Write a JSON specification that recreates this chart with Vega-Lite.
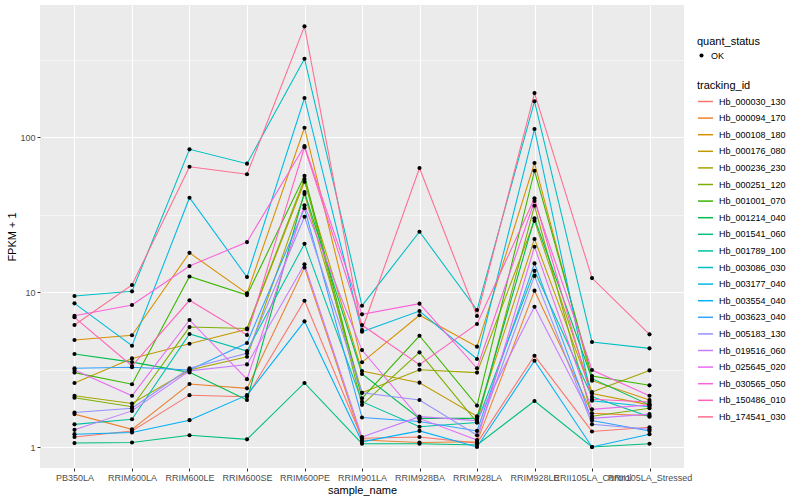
{
  "$schema": "https://vega.github.io/schema/vega-lite/v6.json",
  "width": 644,
  "height": 463,
  "autosize": {"type": "none"},
  "padding": {"left": 40, "top": 5, "right": 116, "bottom": 32},
  "background": "white",
  "config": {
    "view": {"fill": "#EBEBEB", "stroke": null},
    "font": "Liberation Sans",
    "axis": {"domain": false, "tickColor": "#333333", "tickSize": 3, "labelColor": "#4D4D4D", "labelFontSize": 9, "titleFontSize": 11, "titleFontWeight": "normal", "titleColor": "black", "gridColor": "white", "gridWidth": 1.07, "labelFont": "Liberation Sans", "titleFont": "Liberation Sans"},
    "legend": {"titleFontSize": 11, "titleFontWeight": "normal", "labelFontSize": 9, "titleColor": "black", "labelColor": "black", "titleFont": "Liberation Sans", "labelFont": "Liberation Sans", "padding": 0}
  },
  "datasets": {
    "expr": [
      {"tracking_id":"Hb_000030_130","sample_name":"PB350LA","quant_status":"OK","fpkm":1.16},
      {"tracking_id":"Hb_000030_130","sample_name":"RRIM600LA","quant_status":"OK","fpkm":1.27},
      {"tracking_id":"Hb_000030_130","sample_name":"RRIM600LE","quant_status":"OK","fpkm":2.16},
      {"tracking_id":"Hb_000030_130","sample_name":"RRIM600SE","quant_status":"OK","fpkm":2.11},
      {"tracking_id":"Hb_000030_130","sample_name":"RRIM600PE","quant_status":"OK","fpkm":8.79},
      {"tracking_id":"Hb_000030_130","sample_name":"RRIM901LA","quant_status":"OK","fpkm":1.14},
      {"tracking_id":"Hb_000030_130","sample_name":"RRIM928BA","quant_status":"OK","fpkm":1.16},
      {"tracking_id":"Hb_000030_130","sample_name":"RRIM928LA","quant_status":"OK","fpkm":1.06},
      {"tracking_id":"Hb_000030_130","sample_name":"RRIM928LE","quant_status":"OK","fpkm":3.88},
      {"tracking_id":"Hb_000030_130","sample_name":"RRII105LA_Control","quant_status":"OK","fpkm":1.26},
      {"tracking_id":"Hb_000030_130","sample_name":"RRII105LA_Stressed","quant_status":"OK","fpkm":1.34},

      {"tracking_id":"Hb_000094_170","sample_name":"PB350LA","quant_status":"OK","fpkm":1.63},
      {"tracking_id":"Hb_000094_170","sample_name":"RRIM600LA","quant_status":"OK","fpkm":1.30},
      {"tracking_id":"Hb_000094_170","sample_name":"RRIM600LE","quant_status":"OK","fpkm":2.55},
      {"tracking_id":"Hb_000094_170","sample_name":"RRIM600SE","quant_status":"OK","fpkm":2.39},
      {"tracking_id":"Hb_000094_170","sample_name":"RRIM600PE","quant_status":"OK","fpkm":14.4},
      {"tracking_id":"Hb_000094_170","sample_name":"RRIM901LA","quant_status":"OK","fpkm":1.11},
      {"tracking_id":"Hb_000094_170","sample_name":"RRIM928BA","quant_status":"OK","fpkm":1.07},
      {"tracking_id":"Hb_000094_170","sample_name":"RRIM928LA","quant_status":"OK","fpkm":1.08},
      {"tracking_id":"Hb_000094_170","sample_name":"RRIM928LE","quant_status":"OK","fpkm":10.2},
      {"tracking_id":"Hb_000094_170","sample_name":"RRII105LA_Control","quant_status":"OK","fpkm":1.65},
      {"tracking_id":"Hb_000094_170","sample_name":"RRII105LA_Stressed","quant_status":"OK","fpkm":1.59},

      {"tracking_id":"Hb_000108_180","sample_name":"PB350LA","quant_status":"OK","fpkm":4.90},
      {"tracking_id":"Hb_000108_180","sample_name":"RRIM600LA","quant_status":"OK","fpkm":5.26},
      {"tracking_id":"Hb_000108_180","sample_name":"RRIM600LE","quant_status":"OK","fpkm":17.9},
      {"tracking_id":"Hb_000108_180","sample_name":"RRIM600SE","quant_status":"OK","fpkm":9.80},
      {"tracking_id":"Hb_000108_180","sample_name":"RRIM600PE","quant_status":"OK","fpkm":114.8},
      {"tracking_id":"Hb_000108_180","sample_name":"RRIM901LA","quant_status":"OK","fpkm":3.52},
      {"tracking_id":"Hb_000108_180","sample_name":"RRIM928BA","quant_status":"OK","fpkm":7.08},
      {"tracking_id":"Hb_000108_180","sample_name":"RRIM928LA","quant_status":"OK","fpkm":4.44},
      {"tracking_id":"Hb_000108_180","sample_name":"RRIM928LE","quant_status":"OK","fpkm":68.0},
      {"tracking_id":"Hb_000108_180","sample_name":"RRII105LA_Control","quant_status":"OK","fpkm":2.68},
      {"tracking_id":"Hb_000108_180","sample_name":"RRII105LA_Stressed","quant_status":"OK","fpkm":2.01},

      {"tracking_id":"Hb_000176_080","sample_name":"PB350LA","quant_status":"OK","fpkm":2.59},
      {"tracking_id":"Hb_000176_080","sample_name":"RRIM600LA","quant_status":"OK","fpkm":3.73},
      {"tracking_id":"Hb_000176_080","sample_name":"RRIM600LE","quant_status":"OK","fpkm":4.64},
      {"tracking_id":"Hb_000176_080","sample_name":"RRIM600SE","quant_status":"OK","fpkm":5.75},
      {"tracking_id":"Hb_000176_080","sample_name":"RRIM600PE","quant_status":"OK","fpkm":51.5},
      {"tracking_id":"Hb_000176_080","sample_name":"RRIM901LA","quant_status":"OK","fpkm":3.09},
      {"tracking_id":"Hb_000176_080","sample_name":"RRIM928BA","quant_status":"OK","fpkm":2.60},
      {"tracking_id":"Hb_000176_080","sample_name":"RRIM928LA","quant_status":"OK","fpkm":1.58},
      {"tracking_id":"Hb_000176_080","sample_name":"RRIM928LE","quant_status":"OK","fpkm":22.0},
      {"tracking_id":"Hb_000176_080","sample_name":"RRII105LA_Control","quant_status":"OK","fpkm":2.21},
      {"tracking_id":"Hb_000176_080","sample_name":"RRII105LA_Stressed","quant_status":"OK","fpkm":1.87},

      {"tracking_id":"Hb_000236_230","sample_name":"PB350LA","quant_status":"OK","fpkm":2.14},
      {"tracking_id":"Hb_000236_230","sample_name":"RRIM600LA","quant_status":"OK","fpkm":1.91},
      {"tracking_id":"Hb_000236_230","sample_name":"RRIM600LE","quant_status":"OK","fpkm":3.14},
      {"tracking_id":"Hb_000236_230","sample_name":"RRIM600SE","quant_status":"OK","fpkm":3.82},
      {"tracking_id":"Hb_000236_230","sample_name":"RRIM600PE","quant_status":"OK","fpkm":42.9},
      {"tracking_id":"Hb_000236_230","sample_name":"RRIM901LA","quant_status":"OK","fpkm":2.24},
      {"tracking_id":"Hb_000236_230","sample_name":"RRIM928BA","quant_status":"OK","fpkm":3.15},
      {"tracking_id":"Hb_000236_230","sample_name":"RRIM928LA","quant_status":"OK","fpkm":3.02},
      {"tracking_id":"Hb_000236_230","sample_name":"RRIM928LE","quant_status":"OK","fpkm":28.8},
      {"tracking_id":"Hb_000236_230","sample_name":"RRII105LA_Control","quant_status":"OK","fpkm":2.26},
      {"tracking_id":"Hb_000236_230","sample_name":"RRII105LA_Stressed","quant_status":"OK","fpkm":3.12},

      {"tracking_id":"Hb_000251_120","sample_name":"PB350LA","quant_status":"OK","fpkm":2.08},
      {"tracking_id":"Hb_000251_120","sample_name":"RRIM600LA","quant_status":"OK","fpkm":1.82},
      {"tracking_id":"Hb_000251_120","sample_name":"RRIM600LE","quant_status":"OK","fpkm":5.94},
      {"tracking_id":"Hb_000251_120","sample_name":"RRIM600SE","quant_status":"OK","fpkm":5.82},
      {"tracking_id":"Hb_000251_120","sample_name":"RRIM600PE","quant_status":"OK","fpkm":53.6},
      {"tracking_id":"Hb_000251_120","sample_name":"RRIM901LA","quant_status":"OK","fpkm":1.87},
      {"tracking_id":"Hb_000251_120","sample_name":"RRIM928BA","quant_status":"OK","fpkm":4.08},
      {"tracking_id":"Hb_000251_120","sample_name":"RRIM928LA","quant_status":"OK","fpkm":1.44},
      {"tracking_id":"Hb_000251_120","sample_name":"RRIM928LE","quant_status":"OK","fpkm":36.0},
      {"tracking_id":"Hb_000251_120","sample_name":"RRII105LA_Control","quant_status":"OK","fpkm":1.58},
      {"tracking_id":"Hb_000251_120","sample_name":"RRII105LA_Stressed","quant_status":"OK","fpkm":1.78},

      {"tracking_id":"Hb_001001_070","sample_name":"PB350LA","quant_status":"OK","fpkm":3.02},
      {"tracking_id":"Hb_001001_070","sample_name":"RRIM600LA","quant_status":"OK","fpkm":2.54},
      {"tracking_id":"Hb_001001_070","sample_name":"RRIM600LE","quant_status":"OK","fpkm":12.6},
      {"tracking_id":"Hb_001001_070","sample_name":"RRIM600SE","quant_status":"OK","fpkm":9.55},
      {"tracking_id":"Hb_001001_070","sample_name":"RRIM600PE","quant_status":"OK","fpkm":56.3},
      {"tracking_id":"Hb_001001_070","sample_name":"RRIM901LA","quant_status":"OK","fpkm":2.06},
      {"tracking_id":"Hb_001001_070","sample_name":"RRIM928BA","quant_status":"OK","fpkm":5.22},
      {"tracking_id":"Hb_001001_070","sample_name":"RRIM928LA","quant_status":"OK","fpkm":1.85},
      {"tracking_id":"Hb_001001_070","sample_name":"RRIM928LE","quant_status":"OK","fpkm":60.6},
      {"tracking_id":"Hb_001001_070","sample_name":"RRII105LA_Control","quant_status":"OK","fpkm":2.87},
      {"tracking_id":"Hb_001001_070","sample_name":"RRII105LA_Stressed","quant_status":"OK","fpkm":2.50},

      {"tracking_id":"Hb_001214_040","sample_name":"PB350LA","quant_status":"OK","fpkm":3.98},
      {"tracking_id":"Hb_001214_040","sample_name":"RRIM600LA","quant_status":"OK","fpkm":3.53},
      {"tracking_id":"Hb_001214_040","sample_name":"RRIM600LE","quant_status":"OK","fpkm":3.03},
      {"tracking_id":"Hb_001214_040","sample_name":"RRIM600SE","quant_status":"OK","fpkm":2.01},
      {"tracking_id":"Hb_001214_040","sample_name":"RRIM600PE","quant_status":"OK","fpkm":44.2},
      {"tracking_id":"Hb_001214_040","sample_name":"RRIM901LA","quant_status":"OK","fpkm":2.96},
      {"tracking_id":"Hb_001214_040","sample_name":"RRIM928BA","quant_status":"OK","fpkm":1.53},
      {"tracking_id":"Hb_001214_040","sample_name":"RRIM928LA","quant_status":"OK","fpkm":1.53},
      {"tracking_id":"Hb_001214_040","sample_name":"RRIM928LE","quant_status":"OK","fpkm":29.9},
      {"tracking_id":"Hb_001214_040","sample_name":"RRII105LA_Control","quant_status":"OK","fpkm":2.76},
      {"tracking_id":"Hb_001214_040","sample_name":"RRII105LA_Stressed","quant_status":"OK","fpkm":1.87},

      {"tracking_id":"Hb_001541_060","sample_name":"PB350LA","quant_status":"OK","fpkm":1.06},
      {"tracking_id":"Hb_001541_060","sample_name":"RRIM600LA","quant_status":"OK","fpkm":1.07},
      {"tracking_id":"Hb_001541_060","sample_name":"RRIM600LE","quant_status":"OK","fpkm":1.19},
      {"tracking_id":"Hb_001541_060","sample_name":"RRIM600SE","quant_status":"OK","fpkm":1.12},
      {"tracking_id":"Hb_001541_060","sample_name":"RRIM600PE","quant_status":"OK","fpkm":2.59},
      {"tracking_id":"Hb_001541_060","sample_name":"RRIM901LA","quant_status":"OK","fpkm":1.05},
      {"tracking_id":"Hb_001541_060","sample_name":"RRIM928BA","quant_status":"OK","fpkm":1.05},
      {"tracking_id":"Hb_001541_060","sample_name":"RRIM928LA","quant_status":"OK","fpkm":1.03},
      {"tracking_id":"Hb_001541_060","sample_name":"RRIM928LE","quant_status":"OK","fpkm":1.98},
      {"tracking_id":"Hb_001541_060","sample_name":"RRII105LA_Control","quant_status":"OK","fpkm":1.00},
      {"tracking_id":"Hb_001541_060","sample_name":"RRII105LA_Stressed","quant_status":"OK","fpkm":1.05},

      {"tracking_id":"Hb_001789_100","sample_name":"PB350LA","quant_status":"OK","fpkm":1.40},
      {"tracking_id":"Hb_001789_100","sample_name":"RRIM600LA","quant_status":"OK","fpkm":1.51},
      {"tracking_id":"Hb_001789_100","sample_name":"RRIM600LE","quant_status":"OK","fpkm":5.36},
      {"tracking_id":"Hb_001789_100","sample_name":"RRIM600SE","quant_status":"OK","fpkm":4.16},
      {"tracking_id":"Hb_001789_100","sample_name":"RRIM600PE","quant_status":"OK","fpkm":20.5},
      {"tracking_id":"Hb_001789_100","sample_name":"RRIM901LA","quant_status":"OK","fpkm":1.96},
      {"tracking_id":"Hb_001789_100","sample_name":"RRIM928BA","quant_status":"OK","fpkm":1.35},
      {"tracking_id":"Hb_001789_100","sample_name":"RRIM928LA","quant_status":"OK","fpkm":1.44},
      {"tracking_id":"Hb_001789_100","sample_name":"RRIM928LE","quant_status":"OK","fpkm":13.7},
      {"tracking_id":"Hb_001789_100","sample_name":"RRII105LA_Control","quant_status":"OK","fpkm":2.11},
      {"tracking_id":"Hb_001789_100","sample_name":"RRII105LA_Stressed","quant_status":"OK","fpkm":1.57},

      {"tracking_id":"Hb_003086_030","sample_name":"PB350LA","quant_status":"OK","fpkm":9.42},
      {"tracking_id":"Hb_003086_030","sample_name":"RRIM600LA","quant_status":"OK","fpkm":10.1},
      {"tracking_id":"Hb_003086_030","sample_name":"RRIM600LE","quant_status":"OK","fpkm":83.3},
      {"tracking_id":"Hb_003086_030","sample_name":"RRIM600SE","quant_status":"OK","fpkm":67.3},
      {"tracking_id":"Hb_003086_030","sample_name":"RRIM600PE","quant_status":"OK","fpkm":320},
      {"tracking_id":"Hb_003086_030","sample_name":"RRIM901LA","quant_status":"OK","fpkm":8.16},
      {"tracking_id":"Hb_003086_030","sample_name":"RRIM928BA","quant_status":"OK","fpkm":24.5},
      {"tracking_id":"Hb_003086_030","sample_name":"RRIM928LA","quant_status":"OK","fpkm":7.65},
      {"tracking_id":"Hb_003086_030","sample_name":"RRIM928LE","quant_status":"OK","fpkm":170},
      {"tracking_id":"Hb_003086_030","sample_name":"RRII105LA_Control","quant_status":"OK","fpkm":4.76},
      {"tracking_id":"Hb_003086_030","sample_name":"RRII105LA_Stressed","quant_status":"OK","fpkm":4.33},

      {"tracking_id":"Hb_003177_040","sample_name":"PB350LA","quant_status":"OK","fpkm":8.45},
      {"tracking_id":"Hb_003177_040","sample_name":"RRIM600LA","quant_status":"OK","fpkm":4.50},
      {"tracking_id":"Hb_003177_040","sample_name":"RRIM600LE","quant_status":"OK","fpkm":40.6},
      {"tracking_id":"Hb_003177_040","sample_name":"RRIM600SE","quant_status":"OK","fpkm":12.5},
      {"tracking_id":"Hb_003177_040","sample_name":"RRIM600PE","quant_status":"OK","fpkm":178.6},
      {"tracking_id":"Hb_003177_040","sample_name":"RRIM901LA","quant_status":"OK","fpkm":5.54},
      {"tracking_id":"Hb_003177_040","sample_name":"RRIM928BA","quant_status":"OK","fpkm":7.54},
      {"tracking_id":"Hb_003177_040","sample_name":"RRIM928LA","quant_status":"OK","fpkm":3.70},
      {"tracking_id":"Hb_003177_040","sample_name":"RRIM928LE","quant_status":"OK","fpkm":112.6},
      {"tracking_id":"Hb_003177_040","sample_name":"RRII105LA_Control","quant_status":"OK","fpkm":1.99},
      {"tracking_id":"Hb_003177_040","sample_name":"RRII105LA_Stressed","quant_status":"OK","fpkm":1.82},

      {"tracking_id":"Hb_003554_040","sample_name":"PB350LA","quant_status":"OK","fpkm":1.21},
      {"tracking_id":"Hb_003554_040","sample_name":"RRIM600LA","quant_status":"OK","fpkm":1.24},
      {"tracking_id":"Hb_003554_040","sample_name":"RRIM600LE","quant_status":"OK","fpkm":1.49},
      {"tracking_id":"Hb_003554_040","sample_name":"RRIM600SE","quant_status":"OK","fpkm":2.16},
      {"tracking_id":"Hb_003554_040","sample_name":"RRIM600PE","quant_status":"OK","fpkm":6.47},
      {"tracking_id":"Hb_003554_040","sample_name":"RRIM901LA","quant_status":"OK","fpkm":1.08},
      {"tracking_id":"Hb_003554_040","sample_name":"RRIM928BA","quant_status":"OK","fpkm":1.27},
      {"tracking_id":"Hb_003554_040","sample_name":"RRIM928LA","quant_status":"OK","fpkm":1.00},
      {"tracking_id":"Hb_003554_040","sample_name":"RRIM928LE","quant_status":"OK","fpkm":3.60},
      {"tracking_id":"Hb_003554_040","sample_name":"RRII105LA_Control","quant_status":"OK","fpkm":1.00},
      {"tracking_id":"Hb_003554_040","sample_name":"RRII105LA_Stressed","quant_status":"OK","fpkm":1.21},

      {"tracking_id":"Hb_003623_040","sample_name":"PB350LA","quant_status":"OK","fpkm":3.22},
      {"tracking_id":"Hb_003623_040","sample_name":"RRIM600LA","quant_status":"OK","fpkm":3.27},
      {"tracking_id":"Hb_003623_040","sample_name":"RRIM600LE","quant_status":"OK","fpkm":3.14},
      {"tracking_id":"Hb_003623_040","sample_name":"RRIM600SE","quant_status":"OK","fpkm":4.69},
      {"tracking_id":"Hb_003623_040","sample_name":"RRIM600PE","quant_status":"OK","fpkm":34.7},
      {"tracking_id":"Hb_003623_040","sample_name":"RRIM901LA","quant_status":"OK","fpkm":1.55},
      {"tracking_id":"Hb_003623_040","sample_name":"RRIM928BA","quant_status":"OK","fpkm":1.46},
      {"tracking_id":"Hb_003623_040","sample_name":"RRIM928LA","quant_status":"OK","fpkm":1.27},
      {"tracking_id":"Hb_003623_040","sample_name":"RRIM928LE","quant_status":"OK","fpkm":15.3},
      {"tracking_id":"Hb_003623_040","sample_name":"RRII105LA_Control","quant_status":"OK","fpkm":1.48},
      {"tracking_id":"Hb_003623_040","sample_name":"RRII105LA_Stressed","quant_status":"OK","fpkm":1.27},

      {"tracking_id":"Hb_005183_130","sample_name":"PB350LA","quant_status":"OK","fpkm":1.67},
      {"tracking_id":"Hb_005183_130","sample_name":"RRIM600LA","quant_status":"OK","fpkm":1.78},
      {"tracking_id":"Hb_005183_130","sample_name":"RRIM600LE","quant_status":"OK","fpkm":3.22},
      {"tracking_id":"Hb_005183_130","sample_name":"RRIM600SE","quant_status":"OK","fpkm":4.02},
      {"tracking_id":"Hb_005183_130","sample_name":"RRIM600PE","quant_status":"OK","fpkm":30.6},
      {"tracking_id":"Hb_005183_130","sample_name":"RRIM901LA","quant_status":"OK","fpkm":2.24},
      {"tracking_id":"Hb_005183_130","sample_name":"RRIM928BA","quant_status":"OK","fpkm":2.01},
      {"tracking_id":"Hb_005183_130","sample_name":"RRIM928LA","quant_status":"OK","fpkm":1.19},
      {"tracking_id":"Hb_005183_130","sample_name":"RRIM928LE","quant_status":"OK","fpkm":12.7},
      {"tracking_id":"Hb_005183_130","sample_name":"RRII105LA_Control","quant_status":"OK","fpkm":1.40},
      {"tracking_id":"Hb_005183_130","sample_name":"RRII105LA_Stressed","quant_status":"OK","fpkm":1.30},

      {"tracking_id":"Hb_019516_060","sample_name":"PB350LA","quant_status":"OK","fpkm":1.29},
      {"tracking_id":"Hb_019516_060","sample_name":"RRIM600LA","quant_status":"OK","fpkm":1.71},
      {"tracking_id":"Hb_019516_060","sample_name":"RRIM600LE","quant_status":"OK","fpkm":3.10},
      {"tracking_id":"Hb_019516_060","sample_name":"RRIM600SE","quant_status":"OK","fpkm":3.41},
      {"tracking_id":"Hb_019516_060","sample_name":"RRIM600PE","quant_status":"OK","fpkm":15.1},
      {"tracking_id":"Hb_019516_060","sample_name":"RRIM901LA","quant_status":"OK","fpkm":1.16},
      {"tracking_id":"Hb_019516_060","sample_name":"RRIM928BA","quant_status":"OK","fpkm":1.57},
      {"tracking_id":"Hb_019516_060","sample_name":"RRIM928LA","quant_status":"OK","fpkm":1.48},
      {"tracking_id":"Hb_019516_060","sample_name":"RRIM928LE","quant_status":"OK","fpkm":8.04},
      {"tracking_id":"Hb_019516_060","sample_name":"RRII105LA_Control","quant_status":"OK","fpkm":1.53},
      {"tracking_id":"Hb_019516_060","sample_name":"RRII105LA_Stressed","quant_status":"OK","fpkm":1.63},

      {"tracking_id":"Hb_025645_020","sample_name":"PB350LA","quant_status":"OK","fpkm":3.14},
      {"tracking_id":"Hb_025645_020","sample_name":"RRIM600LA","quant_status":"OK","fpkm":2.14},
      {"tracking_id":"Hb_025645_020","sample_name":"RRIM600LE","quant_status":"OK","fpkm":6.60},
      {"tracking_id":"Hb_025645_020","sample_name":"RRIM600SE","quant_status":"OK","fpkm":2.74},
      {"tracking_id":"Hb_025645_020","sample_name":"RRIM600PE","quant_status":"OK","fpkm":36.3},
      {"tracking_id":"Hb_025645_020","sample_name":"RRIM901LA","quant_status":"OK","fpkm":4.22},
      {"tracking_id":"Hb_025645_020","sample_name":"RRIM928BA","quant_status":"OK","fpkm":1.53},
      {"tracking_id":"Hb_025645_020","sample_name":"RRIM928LA","quant_status":"OK","fpkm":1.11},
      {"tracking_id":"Hb_025645_020","sample_name":"RRIM928LE","quant_status":"OK","fpkm":19.6},
      {"tracking_id":"Hb_025645_020","sample_name":"RRII105LA_Control","quant_status":"OK","fpkm":1.75},
      {"tracking_id":"Hb_025645_020","sample_name":"RRII105LA_Stressed","quant_status":"OK","fpkm":1.87},

      {"tracking_id":"Hb_030565_050","sample_name":"PB350LA","quant_status":"OK","fpkm":7.03},
      {"tracking_id":"Hb_030565_050","sample_name":"RRIM600LA","quant_status":"OK","fpkm":8.24},
      {"tracking_id":"Hb_030565_050","sample_name":"RRIM600LE","quant_status":"OK","fpkm":14.7},
      {"tracking_id":"Hb_030565_050","sample_name":"RRIM600SE","quant_status":"OK","fpkm":21.0},
      {"tracking_id":"Hb_030565_050","sample_name":"RRIM600PE","quant_status":"OK","fpkm":87.5},
      {"tracking_id":"Hb_030565_050","sample_name":"RRIM901LA","quant_status":"OK","fpkm":7.18},
      {"tracking_id":"Hb_030565_050","sample_name":"RRIM928BA","quant_status":"OK","fpkm":8.41},
      {"tracking_id":"Hb_030565_050","sample_name":"RRIM928LA","quant_status":"OK","fpkm":3.22},
      {"tracking_id":"Hb_030565_050","sample_name":"RRIM928LE","quant_status":"OK","fpkm":38.7},
      {"tracking_id":"Hb_030565_050","sample_name":"RRII105LA_Control","quant_status":"OK","fpkm":3.14},
      {"tracking_id":"Hb_030565_050","sample_name":"RRII105LA_Stressed","quant_status":"OK","fpkm":2.14},

      {"tracking_id":"Hb_150486_010","sample_name":"PB350LA","quant_status":"OK","fpkm":6.87},
      {"tracking_id":"Hb_150486_010","sample_name":"RRIM600LA","quant_status":"OK","fpkm":3.33},
      {"tracking_id":"Hb_150486_010","sample_name":"RRIM600LE","quant_status":"OK","fpkm":8.84},
      {"tracking_id":"Hb_150486_010","sample_name":"RRIM600SE","quant_status":"OK","fpkm":5.28},
      {"tracking_id":"Hb_150486_010","sample_name":"RRIM600PE","quant_status":"OK","fpkm":85.9},
      {"tracking_id":"Hb_150486_010","sample_name":"RRIM901LA","quant_status":"OK","fpkm":6.12},
      {"tracking_id":"Hb_150486_010","sample_name":"RRIM928BA","quant_status":"OK","fpkm":3.40},
      {"tracking_id":"Hb_150486_010","sample_name":"RRIM928LA","quant_status":"OK","fpkm":6.22},
      {"tracking_id":"Hb_150486_010","sample_name":"RRIM928LE","quant_status":"OK","fpkm":40.2},
      {"tracking_id":"Hb_150486_010","sample_name":"RRII105LA_Control","quant_status":"OK","fpkm":2.03},
      {"tracking_id":"Hb_150486_010","sample_name":"RRII105LA_Stressed","quant_status":"OK","fpkm":1.95},

      {"tracking_id":"Hb_174541_030","sample_name":"PB350LA","quant_status":"OK","fpkm":6.13},
      {"tracking_id":"Hb_174541_030","sample_name":"RRIM600LA","quant_status":"OK","fpkm":11.1},
      {"tracking_id":"Hb_174541_030","sample_name":"RRIM600LE","quant_status":"OK","fpkm":64.3},
      {"tracking_id":"Hb_174541_030","sample_name":"RRIM600SE","quant_status":"OK","fpkm":57.5},
      {"tracking_id":"Hb_174541_030","sample_name":"RRIM600PE","quant_status":"OK","fpkm":518},
      {"tracking_id":"Hb_174541_030","sample_name":"RRIM901LA","quant_status":"OK","fpkm":5.69},
      {"tracking_id":"Hb_174541_030","sample_name":"RRIM928BA","quant_status":"OK","fpkm":63.1},
      {"tracking_id":"Hb_174541_030","sample_name":"RRIM928LA","quant_status":"OK","fpkm":7.00},
      {"tracking_id":"Hb_174541_030","sample_name":"RRIM928LE","quant_status":"OK","fpkm":192},
      {"tracking_id":"Hb_174541_030","sample_name":"RRII105LA_Control","quant_status":"OK","fpkm":12.3},
      {"tracking_id":"Hb_174541_030","sample_name":"RRII105LA_Stressed","quant_status":"OK","fpkm":5.33}
    ]
  },
  "data": {"name": "expr"},
  "layer": [
    {
      "mark": {"type": "line", "strokeWidth": 1.07},
      "encoding": {
        "x": {"field": "sample_name", "type": "nominal",
              "sort": ["PB350LA","RRIM600LA","RRIM600LE","RRIM600SE","RRIM600PE","RRIM901LA","RRIM928BA","RRIM928LA","RRIM928LE","RRII105LA_Control","RRII105LA_Stressed"],
              "scale": {"type": "point", "padding": 0.6},
              "axis": {"title": "sample_name", "labelAngle": 0, "labelOverlap": false, "labelBound": false, "labelFlush": false, "grid": true, "labelPadding": 2, "titlePadding": 2}},
        "y": {"field": "fpkm", "type": "quantitative",
              "scale": {"type": "log", "domain": [0.732, 711], "nice": false, "zero": false},
              "axis": {"title": "FPKM + 1", "values": [1, 10, 100], "format": "d", "grid": true, "labelPadding": 2, "titlePadding": 2}},
        "color": {"field": "tracking_id", "type": "nominal",
                  "scale": {"domain": ["Hb_000030_130","Hb_000094_170","Hb_000108_180","Hb_000176_080","Hb_000236_230","Hb_000251_120","Hb_001001_070","Hb_001214_040","Hb_001541_060","Hb_001789_100","Hb_003086_030","Hb_003177_040","Hb_003554_040","Hb_003623_040","Hb_005183_130","Hb_019516_060","Hb_025645_020","Hb_030565_050","Hb_150486_010","Hb_174541_030"],
                            "range": ["#F8766D","#EA8331","#D89000","#C09B00","#A3A500","#7CAE00","#39B600","#00BB4E","#00BF7D","#00C1A3","#00BFC4","#00BAE0","#00B0F6","#35A2FF","#9590FF","#C77CFF","#E76BF3","#FA62DB","#FF62BC","#FF6C91"]},
                  "legend": {"title": "tracking_id", "orient": "none", "legendX": 657, "legendY": 75, "symbolType": "stroke", "symbolSize": 225, "symbolStrokeWidth": 1.5, "rowPadding": 2.6, "labelOffset": 5, "titlePadding": 2}}
      }
    },
    {
      "mark": {"type": "point", "filled": true, "size": 17, "color": "black", "opacity": 1},
      "encoding": {
        "x": {"field": "sample_name", "type": "nominal",
              "sort": ["PB350LA","RRIM600LA","RRIM600LE","RRIM600SE","RRIM600PE","RRIM901LA","RRIM928BA","RRIM928LA","RRIM928LE","RRII105LA_Control","RRII105LA_Stressed"]},
        "y": {"field": "fpkm", "type": "quantitative",
              "scale": {"type": "log", "domain": [0.732, 711], "nice": false, "zero": false},
              "axis": {"orient": "right", "values": [3.1623, 31.623, 316.23], "grid": true, "gridWidth": 0.55, "labels": false, "ticks": false, "domain": false, "title": null}},
        "shape": {"field": "quant_status", "type": "nominal", "scale": {"range": ["circle"]},
                  "legend": {"title": "quant_status", "orient": "none", "legendX": 657, "legendY": 31, "symbolSize": 17, "symbolFillColor": "black", "symbolStrokeColor": "black", "rowPadding": 2.3, "labelOffset": 5, "titlePadding": 4, "symbolOffset": 0}}
      }
    }
  ],
  "resolve": {"axis": {"y": "independent"}}
}
